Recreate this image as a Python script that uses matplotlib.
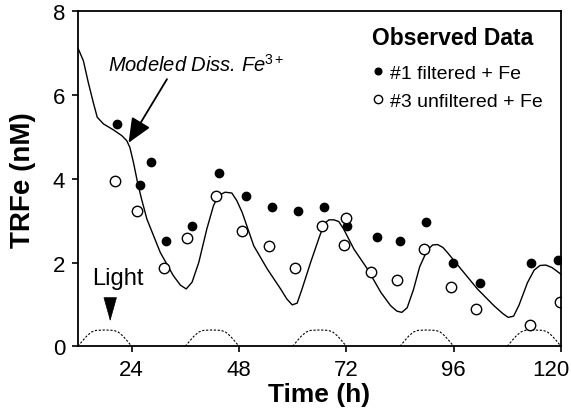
import matplotlib
matplotlib.use("Agg")
from matplotlib import pyplot as plt
from matplotlib.transforms import ScaledTranslation

plt.rcParams['font.family'] = ['Liberation Sans', 'DejaVu Sans']
plt.rcParams['mathtext.fontset'] = 'custom'
plt.rcParams['mathtext.rm'] = 'Liberation Sans'
plt.rcParams['mathtext.it'] = 'Liberation Sans:italic'

# observed data, #1 filtered + Fe
t_filt = [20.7, 25.9, 28.3, 31.6, 37.6, 43.5, 49.5, 55.3, 61.2, 67.1,
          72.2, 78.9, 83.9, 89.8, 95.8, 101.8, 113.4, 119.4]
fe_filt = [5.30, 3.86, 4.39, 2.51, 2.87, 4.14, 3.60, 3.32, 3.24, 3.33,
           2.87, 2.60, 2.51, 2.98, 1.98, 1.52, 1.98, 2.07]

# observed data, #3 unfiltered + Fe
t_unf = [20.3, 25.1, 31.3, 36.3, 42.9, 48.7, 54.8, 60.6, 66.6, 71.9,
         71.4, 77.6, 83.4, 89.4, 95.3, 101.1, 113.0, 119.8]
fe_unf = [3.95, 3.22, 1.87, 2.59, 3.60, 2.75, 2.40, 1.87, 2.87, 3.06,
          2.41, 1.77, 1.59, 2.32, 1.42, 0.89, 0.52, 1.05]

# modeled dissolved Fe3+
t_mod = [12.0, 13.2, 14.3, 15.4, 16.3, 17.7, 19.9, 21.8, 22.9, 23.6,
         24.4, 25.3, 26.2, 27.4, 30.4, 33.3, 34.9, 36.2, 37.5, 39.0,
         40.8, 42.3, 43.4, 44.9, 46.4, 47.5, 48.7, 51.3, 54.3, 57.3,
         58.7, 59.9, 61.0, 62.1, 64.0, 65.8, 67.0, 68.1, 69.2, 70.3,
         71.4, 73.7, 76.7, 79.7, 81.9, 83.3, 84.4, 85.6, 87.0, 88.4,
         90.1, 91.3, 92.4, 93.6, 94.6, 97.6, 101.3, 105.0, 107.0, 108.2,
         109.4, 110.6, 112.5, 114.0, 115.3, 116.6, 118.0, 120.0]
fe_mod = [7.12, 6.82, 6.30, 5.83, 5.47, 5.31, 5.17, 5.03, 4.91, 4.75,
          4.39, 3.92, 3.52, 3.04, 2.24, 1.69, 1.46, 1.37, 1.53, 2.00,
          2.80, 3.36, 3.60, 3.68, 3.66, 3.48, 3.20, 2.40, 1.85, 1.37,
          1.13, 0.99, 1.03, 1.37, 2.00, 2.56, 2.92, 3.02, 3.02, 2.98,
          2.80, 2.32, 1.85, 1.29, 0.97, 0.84, 0.81, 0.92, 1.35, 1.90,
          2.30, 2.42, 2.43, 2.36, 2.24, 1.85, 1.37, 0.97, 0.78, 0.69,
          0.72, 0.98, 1.52, 1.82, 1.93, 1.94, 1.88, 1.72]

# light periods (relative intensity, dotted humps)
light_t = [[12, 13, 14, 15, 16, 18, 20, 21, 22, 23, 24],
           [36, 37, 38, 39, 40, 42, 44, 45, 46, 47, 48],
           [60, 61, 62, 63, 64, 66, 68, 69, 70, 71, 72],
           [84, 85, 86, 87, 88, 90, 92, 93, 94, 95, 96],
           [108, 109, 110, 111, 112, 114, 116, 117, 118, 119, 120]]
light_v = [0, 0.13, 0.25, 0.34, 0.38, 0.39, 0.38, 0.34, 0.25, 0.13, 0]

fig = plt.figure(figsize=(5.71, 4.14), dpi=100)
ax = fig.add_axes([0.1366, 0.1611, 0.8459, 0.8092])

ax.plot(t_mod, fe_mod, color='black', lw=1.0)
for lt in light_t:
    ax.plot(lt, light_v, color='black', lw=0.8, ls=(0, (2, 1.5)))

ax.plot(t_filt, fe_filt, 'o', color='black', ms=6, label='#1 filtered + Fe')
ax.plot(t_unf, fe_unf, 'o', mfc='white', mec='black', mew=1.0, ms=7.5,
        label='#3 unfiltered + Fe')

# annotations
ax.text(18.7, 6.58, 'Modeled Diss. Fe$^{\\mathrm{3+}}$', ha='left',
        va='baseline', fontsize=14.5, style='italic')
ax.annotate('', xy=(23.3, 4.86), xytext=(31.9, 6.38),
            arrowprops=dict(arrowstyle='-|>,head_length=1.5,head_width=0.65',
                            color='black', lw=1.3, shrinkA=0, shrinkB=0))
ax.annotate('', xy=(19.2, 0.6), xytext=(19.2, 1.15),
            arrowprops=dict(arrowstyle='-|>,head_length=1.6,head_width=0.45',
                            color='black', lw=0.5, shrinkA=0, shrinkB=0))
ax.text(20.85, 1.63, 'Light', ha='center', va='center', fontsize=17)

leg = ax.legend(loc='upper left', bbox_to_anchor=(0.6087, 0.955), frameon=False,
                title='Observed Data', fontsize=14, markerscale=0.8,
                handlelength=0.6, handletextpad=0.3, labelspacing=0.5,
                borderpad=0, borderaxespad=0, alignment='left')
leg.get_title().set_fontweight('bold')
leg.get_title().set_fontsize(16.5)
leg._legend_box.sep = 11  # gap between title and entries

ax.set_xlim(12, 120)
ax.set_ylim(0, 8)
ax.set_xticks([24, 48, 72, 96, 120])
ax.set_yticks([0, 2, 4, 6, 8])
ax.tick_params(labelsize=16, direction='out', length=4.3, width=1.2, pad=5)
for s in ax.spines.values():
    s.set_linewidth(1.3)
ax.set_xlabel('Time (h)', fontsize=19, fontweight='bold', labelpad=1)
ax.set_ylabel('TRFe (nM)', fontsize=20, fontweight='bold', labelpad=12)

# last x label sits against the figure edge
fig.canvas.draw()
last = ax.get_xticklabels()[-1]
last.set_transform(last.get_transform() +
                   ScaledTranslation(-10 / 100, 0, fig.dpi_scale_trans))

fig.savefig('out.png', dpi=100)
